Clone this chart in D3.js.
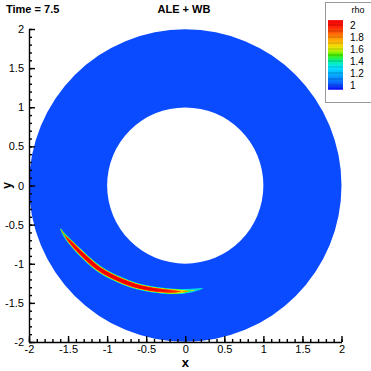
<!DOCTYPE html>
<html>
<head>
<meta charset="utf-8">
<script src="https://cdn.jsdelivr.net/npm/d3@7"></script>
<style>
body { margin: 0; background: #fff; }
svg { display: block; font-family: "Liberation Sans", Arial, sans-serif; }
</style>
</head>
<body>
<div id="chart"></div>
<script>
var svgWidth = 371;
var svgHeight = 371;

// annulus geometry (data units)
var innerRadius = 1;
var outerRadius = 2;
var baseRho = 1;

// dense crescent: centre line in polar coords, peak rho and half width
var arcAngle = [199, 202, 206, 213, 224, 235, 246, 256, 263, 268, 272, 276, 280];
var arcRadius = [1.69, 1.672, 1.64, 1.59, 1.535, 1.472, 1.422, 1.382, 1.366, 1.357, 1.35, 1.342, 1.336];
var arcPeak = [1.0, 1.5, 2.0, 2.1, 2.1, 2.1, 2.1, 2.05, 1.95, 1.7, 1.45, 1.25, 1.0];
var arcWidth = [0.01, 0.016, 0.024, 0.031, 0.034, 0.034, 0.032, 0.03, 0.028, 0.025, 0.022, 0.018, 0.013];

// axis ticks
var majorTicks = [-2, -1.5, -1, -0.5, 0, 0.5, 1, 1.5, 2];

// legend
var legendTicks = [2, 1.8, 1.6, 1.4, 1.2, 1];
var cbStops = [0.93, 1.0, 1.1, 1.2, 1.3, 1.4, 1.5, 1.6, 1.7, 1.8, 1.9, 2.0, 2.08];
var cbColors = ["#0000f0", "#0a4bff", "#0082ff", "#00b4ff", "#00e4ff", "#00f0a0",
                "#40f000", "#d8f000", "#ffc800", "#ff8c00", "#ff4b00", "#ff1000", "#f00000"];

var x = d3.scaleLinear().domain([-2, 2]).range([29, 341.5]);
var y = d3.scaleLinear().domain([-2, 2]).range([342, 29]);
var color = d3.scaleLinear().domain(cbStops).range(cbColors).clamp(true);

var svg = d3.select("#chart")
    .append("svg")
    .attr("width", svgWidth)
    .attr("height", svgHeight);

var k = x(1) - x(0);

// annulus
var plot = svg.append("g")
    .attr("transform", `translate(${x(0)},${y(0)})`);

plot.append("path")
    .attr("d", d3.arc()
        .innerRadius(innerRadius * k)
        .outerRadius(outerRadius * k)
        .startAngle(0)
        .endAngle(2 * Math.PI)())
    .attr("fill", color(baseRho));

// crescent as stacked contour levels
var pts = arcAngle.map((a, i) => ({
    a: Math.PI / 2 - a * Math.PI / 180,
    r: arcRadius[i], p: arcPeak[i], w: arcWidth[i]
}));

function halfWidth(d, L) {
    if (d.p <= L) return 0;
    return d.w * Math.pow(Math.log((d.p - 1) / (L - 1)), 0.25);
}

var levels = d3.range(1.06, 2.1, 0.04);
levels.forEach(function(L) {
    var area = d3.areaRadial()
        .angle(d => d.a)
        .innerRadius(d => (d.r - halfWidth(d, L)) * k)
        .outerRadius(d => (d.r + halfWidth(d, L)) * k)
        .curve(d3.curveCatmullRom);
    plot.append("path")
        .attr("d", area(pts))
        .attr("fill", color(L + 0.02));
});

// axes
var bottomAxis = d3.axisBottom(x).tickValues(majorTicks)
    .tickSizeInner(-6).tickSizeOuter(0).tickPadding(3)
    .tickFormat(d => String(d));
var leftAxis = d3.axisLeft(y).tickValues(majorTicks)
    .tickSizeInner(-6).tickSizeOuter(0).tickPadding(5)
    .tickFormat(d => String(d));

var minorVals = d3.range(-20, 21).map(d => d / 10);

var gx = svg.append("g").attr("transform", `translate(0,${y(-2)})`);
gx.call(d3.axisBottom(x).tickValues(minorVals).tickSize(-3).tickFormat(""))
    .select(".domain").remove();
gx.append("g").call(bottomAxis);

var gy = svg.append("g").attr("transform", `translate(${x(-2)},0)`);
gy.call(d3.axisLeft(y).tickValues(minorVals).tickSize(-3).tickFormat(""))
    .select(".domain").remove();
gy.append("g").call(leftAxis);

svg.selectAll(".domain, .tick line")
    .attr("stroke", "#000")
    .attr("stroke-width", 1.4);
svg.selectAll(".tick text")
    .attr("font-size", "11px")
    .attr("fill", "#000")
    .style("font-family", "\"Liberation Sans\", Arial, sans-serif");

// axis labels
svg.append("text")
    .attr("x", x(0))
    .attr("y", 367)
    .attr("text-anchor", "middle")
    .attr("font-size", "13px")
    .attr("font-weight", "bold")
    .text("x");

svg.append("text")
    .attr("transform", `translate(11,${y(0)}) rotate(-90)`)
    .attr("text-anchor", "middle")
    .attr("font-size", "12px")
    .attr("font-weight", "bold")
    .text("y");

// titles
svg.append("text")
    .attr("x", 6)
    .attr("y", 13)
    .attr("font-size", "11px")
    .attr("font-weight", "bold")
    .text("Time = 7.5");

svg.append("text")
    .attr("x", 184)
    .attr("y", 13)
    .attr("text-anchor", "middle")
    .attr("font-size", "11px")
    .attr("font-weight", "bold")
    .text("ALE + WB");

// legend
var legend = svg.append("g");
legend.append("rect")
    .attr("x", 325.5).attr("y", 2.5)
    .attr("width", 50).attr("height", 100)
    .attr("fill", "#fff")
    .attr("stroke", "#999");

legend.append("text")
    .attr("x", 358).attr("y", 13)
    .attr("text-anchor", "middle")
    .attr("font-size", "9px")
    .text("rho");

var cy = d3.scaleLinear().domain([1, 2]).range([85, 25]);
var cbVals = d3.range(cbStops[0], cbStops[cbStops.length - 1], 0.005);
legend.selectAll("rect.cb")
    .data(cbVals)
    .enter()
    .append("rect")
    .attr("class", "cb")
    .attr("x", 328)
    .attr("y", d => cy(d + 0.005))
    .attr("width", 15)
    .attr("height", d => cy(d) - cy(d + 0.005) + 0.4)
    .attr("fill", d => color(d));

legend.selectAll("line.cbl")
    .data(d3.range(1, 2.01, 0.1))
    .enter()
    .append("line")
    .attr("class", "cbl")
    .attr("x1", 328).attr("x2", 343)
    .attr("y1", d => cy(d)).attr("y2", d => cy(d))
    .attr("stroke", d => d3.color(color(d)).darker(0.8))
    .attr("stroke-width", 0.8);

legend.selectAll("text.lt")
    .data(legendTicks)
    .enter()
    .append("text")
    .attr("class", "lt")
    .attr("x", 350)
    .attr("y", d => cy(d) + 3.5)
    .attr("font-size", "10px")
    .text(d => String(d));
</script>
</body>
</html>
